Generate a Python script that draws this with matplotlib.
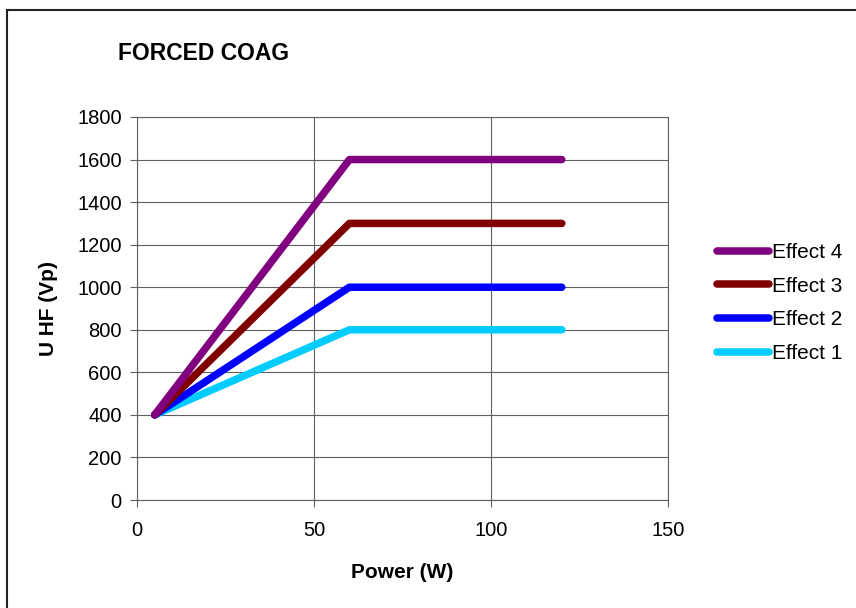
import matplotlib
matplotlib.use('Agg')
import matplotlib.pyplot as plt
from matplotlib.patches import Rectangle

plt.rcParams['font.family'] = ['Liberation Sans', 'DejaVu Sans']

# -------------------- 数据 ----------------------
power = [5, 60, 120]
effect_names = ['Effect 4', 'Effect 3', 'Effect 2', 'Effect 1']
effect_values = [
    [400, 1600, 1600],
    [400, 1300, 1300],
    [400, 1000, 1000],
    [400, 800, 800],
]
effect_colors = ['#800080', '#800000', '#0000ff', '#00ccff']

x_ticks = [0, 50, 100, 150]
y_ticks = [0, 200, 400, 600, 800, 1000, 1200, 1400, 1600, 1800]

# -------------------- 绘图 ----------------------
fig = plt.figure(figsize=(8.56, 6.08), dpi=100)
ax = fig.add_axes([137 / 856, 1 - 500 / 608, 531 / 856, 383 / 608])

# 外框（右边和下边超出画布）
fig.patches.append(Rectangle((7 / 856, -0.1), 1.2, 1 - 10 / 608 + 0.1,
                             transform=fig.transFigure, fill=False,
                             edgecolor='#222222', linewidth=1.5))

# 反向画，让 Effect 1 在最下层、Effect 4 在最上层
for name, vals, col in reversed(list(zip(effect_names, effect_values, effect_colors))):
    ax.plot(power, vals, color=col, linewidth=5.4, solid_capstyle='round',
            solid_joinstyle='round', label=name, zorder=3)

ax.set_xlim(0, 150)
ax.set_ylim(0, 1800)
ax.set_xticks(x_ticks)
ax.set_yticks(y_ticks)
ax.grid(True, color='#606060', linewidth=0.8)
ax.set_axisbelow(True)
for sp in ax.spines.values():
    sp.set_color('#606060')
    sp.set_linewidth(0.8)
ax.tick_params(direction='out', length=5, width=0.8, color='#606060',
               labelsize=14.5, pad=6)
ax.tick_params(axis='x', pad=10)

ax.set_xlabel('Power (W)', fontsize=15, fontweight='bold', labelpad=17)
ax.set_ylabel('U HF (Vp)', fontsize=15, fontweight='bold', labelpad=14)

fig.text(118 / 856, 1 - 53 / 608, 'FORCED COAG', fontsize=16.5,
         fontweight='bold', ha='left', va='center')

handles, labels = ax.get_legend_handles_labels()
leg = fig.legend(handles[::-1], labels[::-1], loc='center left',
                 bbox_to_anchor=(709 / 856, 1 - 303 / 608), frameon=False,
                 fontsize=15, handlelength=2.5, handletextpad=0.1,
                 labelspacing=0.7, borderaxespad=0)

plt.savefig('out.png', dpi=100)
